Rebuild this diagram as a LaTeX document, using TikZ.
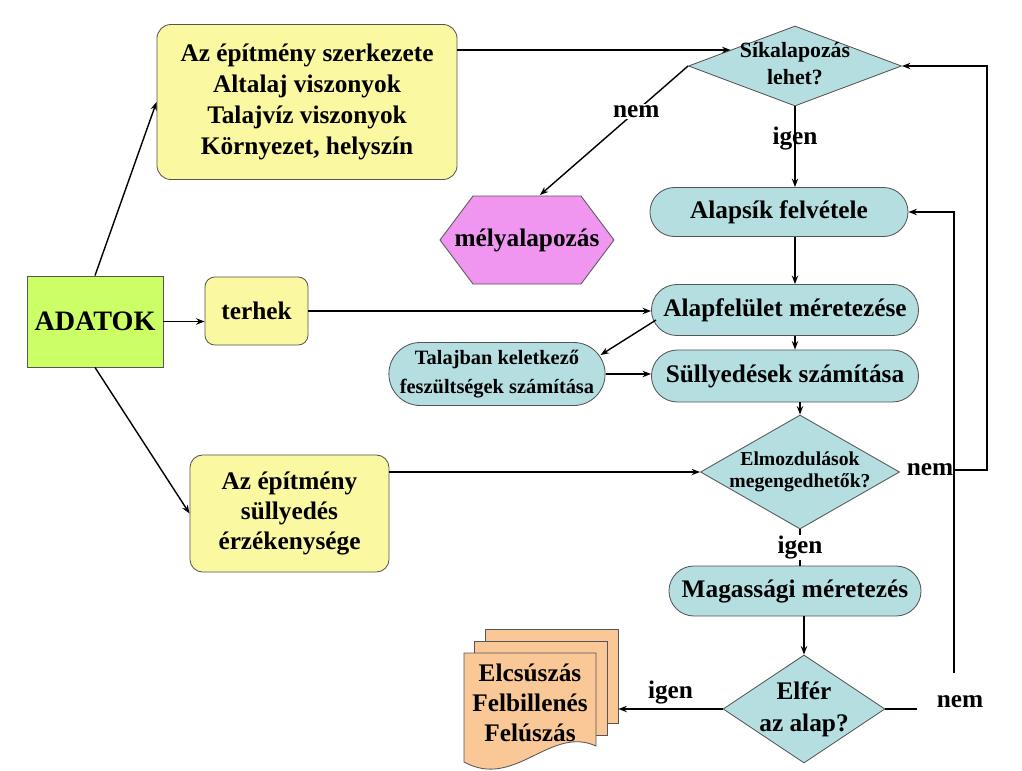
\documentclass[tikz,border=0pt]{standalone}
\usepackage{fontspec}
\setmainfont{Liberation Serif}
\usetikzlibrary{shapes.geometric,shapes.misc,arrows.meta}

\definecolor{sarga}{RGB}{250,248,160}
\definecolor{zold}{RGB}{204,255,102}
\definecolor{kek}{RGB}{180,222,224}
\definecolor{lila}{RGB}{240,150,240}
\definecolor{narancs}{RGB}{250,200,150}
\definecolor{keret}{RGB}{85,85,85}

% szoveg a rombusz kozepere, szelesseg nelkul
\newcommand{\kozep}[1]{\makebox[0pt]{\begin{tabular}{@{}c@{}}#1\end{tabular}}}

\begin{document}
\begin{tikzpicture}[x=0.025cm, y=-0.025cm, line width=1pt,
  every node/.style={font=\fontsize{18}{22}\selectfont\bfseries},
  adat/.style={draw=keret, line width=0.6pt, fill=sarga, align=center, inner sep=0pt},
  folyamat/.style={rounded rectangle, draw=keret, line width=0.6pt, fill=kek, align=center, inner sep=0pt},
  dontes/.style={diamond, draw=keret, line width=0.6pt, fill=kek, inner sep=0pt},
  lap/.style={draw=keret, line width=0.6pt, fill=narancs, minimum width=3.325cm, minimum height=2.35cm},
  felirat/.style={inner sep=1pt},
  nyil/.style={-{Stealth[length=6pt,width=4.5pt]}}]

\useasboundingbox (0,0) rectangle (1022,771);

% bemeno adatok
\node[draw=keret, line width=0.6pt, fill=zold, minimum width=3.4cm, minimum height=2.275cm, font=\fontsize{20}{24}\selectfont\bfseries] (adatok) at (95,321.5) {ADATOK};
\node[adat, rounded corners=10pt, minimum width=7.5cm, minimum height=3.875cm] (epitmeny) at (307,102) {Az építmény szerkezete\\Altalaj viszonyok\\Talajvíz viszonyok\\Környezet, helyszín};
\node[adat, rounded corners=7pt, minimum width=2.575cm, minimum height=1.7cm] (terhek) at (256.5,311) {terhek};
\node[adat, rounded corners=9pt, minimum width=4.975cm, minimum height=2.925cm, font=\fontsize{18}{21.3}\selectfont\bfseries] (erzekeny) at (289.5,513.5) {Az építmény\\süllyedés\\érzékenysége};

% fo folyamat
\node[dontes, minimum width=5.325cm, minimum height=2cm, font=\fontsize{15.5}{19}\selectfont\bfseries] (sik) at (795,66) {\kozep{Síkalapozás\\lehet?}};
\draw[draw=keret, line width=0.6pt, fill=lila] (440,240) -- (473,196) -- (581,196) -- (614,240) -- (581,284) -- (473,284) -- cycle;
\node (mely) at (527,240) {mélyalapozás};
\node[folyamat, minimum width=6.45cm, minimum height=1.225cm] (alapsik) at (779,212) {Alapsík felvétele};
\node[folyamat, minimum width=6.675cm, minimum height=1.275cm] (alapfel) at (785,310) {Alapfelület méretezése};
\node[folyamat, minimum width=5.25cm, minimum height=1.575cm, font=\fontsize{14.5}{20.6}\selectfont\bfseries] (talaj) at (497,374) {Talajban keletkező\\feszültségek számítása};
\node[folyamat, minimum width=6.675cm, minimum height=1.3cm] (sully) at (785,376) {Süllyedések számítása};
\node[dontes, minimum width=4.975cm, minimum height=2.85cm, font=\fontsize{14}{16}\selectfont\bfseries] (elmoz) at (800,472) {\kozep{Elmozdulások\\megengedhetők?}};
\node[folyamat, minimum width=6.3cm, minimum height=1.25cm] (magas) at (795,591) {Magassági méretezés};
\node[dontes, minimum width=4.05cm, minimum height=2.7cm, font=\fontsize{18}{23}\selectfont\bfseries] (elfer) at (804,709) {\kozep{Elfér\\az alap?}};

% dokumentum lapok
\node[lap] (lapC) at (551.5,676) {};
\node[lap] (lapB) at (540.5,688) {};
\draw[draw=keret, line width=0.6pt, fill=narancs] (464,653) -- (596,653) -- (596,746) .. controls (550,725) and (515,790) .. (464,762) -- cycle;
\node[align=center, font=\fontsize{18}{21.5}\selectfont\bfseries] (vizsgalat) at (530,703) {Elcsúszás\\Felbillenés\\Felúszás};

% kapcsolatok
\draw[nyil] (adatok.north) -- (epitmeny.west);
\draw[nyil] (adatok.east) -- (adatok.east -| terhek.west);
\draw[nyil] (adatok.south) -- (erzekeny.west);
\draw[nyil] (epitmeny.east |- sik.166) -- (sik.166);
\draw[nyil] (terhek.east) -- (terhek.east -| alapfel.west);
\draw[nyil] (erzekeny.east |- elmoz.west) -- (elmoz.west);

\draw[nyil] (sik.west) -- node[felirat, fill=white, pos=0.35] {nem} ([shift={(13,-45)}]mely.center);
\draw[nyil] (sik.south) -- node[felirat, pos=0.4] {igen} (sik.south |- alapsik.north);
\draw[nyil] (sik.south |- alapsik.south) -- (sik.south |- alapfel.north);
\draw[nyil] (sik.south |- alapfel.south) -- (sik.south |- sully.north);
\draw[nyil] ([shift={(5,10)}]alapfel.west) -- ([shift={(-5,-19)}]talaj.east);
\draw[nyil] (talaj.east) -- (talaj.east -| sully.west);
\draw[nyil] (elmoz.north |- sully.south) -- (elmoz.north);
\draw (elmoz.south) -- node[felirat, fill=white] {igen} (elmoz.south |- magas.north);
\draw[nyil] (magas.south -| elfer.north) -- (elfer.north);
\draw[nyil] (elfer.west) -- node[felirat, above=2pt] {igen} (elfer.west -| lapC.east);

% visszacsatolasok
\node[felirat] (nemB) at (930,470) {nem};
\coordinate (jobbszel) at (987,467);
\draw[nyil] (nemB.east) -- (nemB.east -| jobbszel) -- (sik.east -| jobbszel) -- (sik.east);
\node[felirat] (nemC) at (960,702) {nem};
\draw (elfer.east) -- +(32,0);
\coordinate (belso) at (954,673);
\draw[nyil] (belso) |- (alapsik.east);
\end{tikzpicture}
\end{document}
